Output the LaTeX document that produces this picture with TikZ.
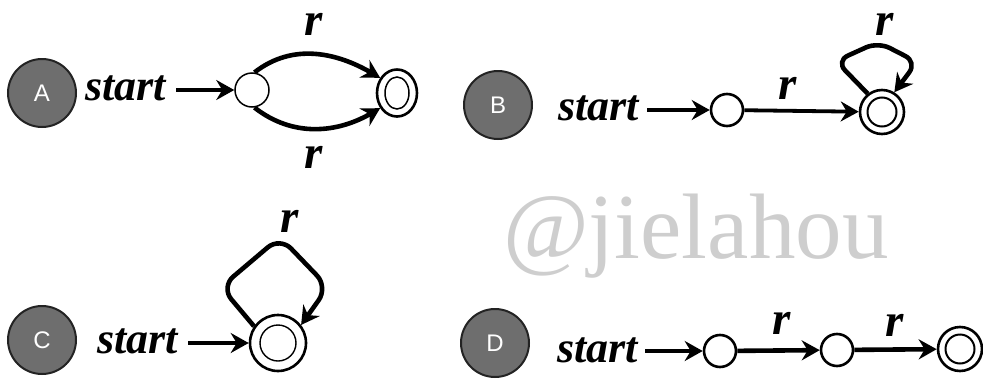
\documentclass[tikz,border=0pt]{standalone}
\usepackage{fontspec}
\setmainfont{Liberation Serif}
\newfontfamily\serifface{Liberation Serif}
\newfontfamily\tagfont{Liberation Sans}
\usetikzlibrary{arrows.meta,shapes.geometric}
\definecolor{tagfill}{RGB}{110,110,110}
\definecolor{tagline}{RGB}{35,35,35}
\definecolor{markgray}{RGB}{206,206,206}
\tikzset{
  tag/.style={circle, draw=tagline, line width=2pt, fill=tagfill,
    minimum size=68pt, inner sep=0pt, text=white,
    font=\tagfont\fontsize{24}{24}\selectfont},
  starttext/.style={anchor=base west, inner sep=0pt,
    font=\serifface\bfseries\itshape\fontsize{44}{44}\selectfont},
  lbl/.style={inner sep=0pt, font=\serifface\bfseries\itshape\fontsize{47}{47}\selectfont},
  state/.style={circle, draw, line width=2.6pt, minimum size=32pt, inner sep=0pt},
  final/.style={circle, draw, line width=2.6pt, minimum size=44pt, inner sep=0pt},
  ring/.style={circle, draw, line width=2pt, inner sep=0pt},
  edge/.style={line width=4.6pt, -{Stealth[length=18pt,width=20pt,inset=6pt]}},
  loopedge/.style={edge, rounded corners=13pt},
}
\begin{document}
\begin{tikzpicture}[x=1pt,y=-1pt]
\useasboundingbox (0,0) rectangle (983,383);

% watermark
\node[anchor=base west, inner sep=0pt, text=markgray,
  font=\serifface\fontsize{93}{93}\selectfont] (mark) at (503,258) {@jielahou};

% ---- A: two parallel r-transitions ----
\node[tag] (tA) at (42,93) {A};
\node[starttext] (sA) at (85,100) {start};
\coordinate (inA) at (176,90);
\node[state, line width=1.5pt, minimum size=34pt] (A1) at (252,90) {};
\node[ellipse, draw, line width=2.6pt, minimum width=40pt, minimum height=47pt, inner sep=0pt] (A2) at (397,93) {};
\node[ellipse, draw, line width=1.5pt, minimum width=24pt, minimum height=32pt, inner sep=0pt] (A2i) at (A2) {};
\draw[edge] (inA) -- (A1);
\draw[edge] (A1.82) to[out=38, in=150] (A2.138);
\draw[edge] (A1.-82) to[out=-38, in=-150] (A2.-138);
\node[lbl] (rA1) at (314,24) {r};
\node[lbl] (rA2) at (314,157) {r};

% ---- B: r then r* loop on the final state ----
\node[tag] (tB) at (498,105) {B};
\node[starttext] (sB) at (558,120) {start};
\coordinate (inB) at (647,110);
\node[state] (B1) at (727,110) {};
\node[final] (B2) at (882,112) {};
\node[ring, minimum size=29pt] (B2i) at (B2) {};
\draw[edge] (inB) -- (B1);
\draw[edge, line width=3.8pt] (B1) -- (B2);
\node[lbl] (rB1) at (788,88) {r};
\draw[loopedge] (B2.128) -- (836,61) -- (878,42) -- (917,62) -- (B2.58);
\node[lbl] (rB2) at (885,24) {r};

% ---- C: a single final state with an r loop ----
\node[tag] (tC) at (42,340) {C};
\node[starttext] (sC) at (97,353) {start};
\coordinate (inC) at (188,343);
\node[final, minimum size=56pt] (C1) at (278,343) {};
\node[ring, line width=1.4pt, minimum size=36pt] (C1i) at (C1) {};
\draw[edge] (inC) -- (C1);
\draw[loopedge, rounded corners=16pt] (C1.145) -- (221,287) -- (280,237) -- (328,287) -- (C1.38);
\node[lbl] (rC) at (290,221) {r};

% ---- D: r followed by r ----
\node[tag] (tD) at (495,343) {D};
\node[starttext] (sD) at (557,362) {start};
\coordinate (inD) at (645,351);
\node[state] (D1) at (720,351) {};
\node[state] (D2) at (837,350) {};
\node[final] (D3) at (960,349) {};
\node[ring, minimum size=29pt] (D3i) at (D3) {};
\draw[edge] (inD) -- (D1);
\draw[edge] (D1) -- (D2);
\draw[edge] (D2) -- (D3);
\node[lbl] (rD1) at (782,323) {r};
\node[lbl] (rD2) at (895,325) {r};
\end{tikzpicture}
\end{document}
